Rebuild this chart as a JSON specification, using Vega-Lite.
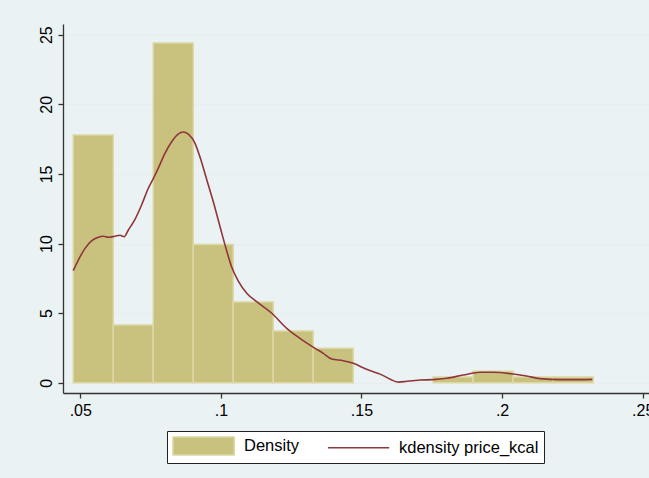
{
  "$schema": "https://vega.github.io/schema/vega-lite/v6.json",
  "width": 586,
  "height": 369,
  "autosize": {"type": "none"},
  "padding": {"left": 63, "top": 24, "right": 0, "bottom": 85},
  "background": "#eaf2f3",
  "config": {
    "view": {"fill": "white", "stroke": null},
    "font": "Liberation Sans",
    "axis": {
      "title": null,
      "labelFontSize": 16,
      "labelColor": "black",
      "labelFont": "Liberation Sans",
      "tickSize": 5,
      "tickColor": "#333333",
      "domainColor": "#333333",
      "domainWidth": 1.3,
      "tickWidth": 1.3,
      "labelPadding": 4,
      "labelFlush": false,
      "labelOverlap": false
    },
    "legend": {
      "orient": "none",
      "legendX": 104,
      "legendY": 407,
      "direction": "horizontal",
      "fillColor": "white",
      "strokeColor": "#222222",
      "padding": 5,
      "labelFontSize": 16.5,
      "labelColor": "black",
      "labelFont": "Liberation Sans",
      "labelOffset": 52,
      "columnPadding": 25,
      "symbolSize": 324,
      "symbolStrokeWidth": 1.5,
      "symbolOpacity": 1
    }
  },
  "datasets": {
    "bars": [
      {"bin_start": 0.0475, "bin_end": 0.06172, "density": 17.79},
      {"bin_start": 0.06172, "bin_end": 0.07594, "density": 4.14},
      {"bin_start": 0.07594, "bin_end": 0.09016, "density": 24.41},
      {"bin_start": 0.09016, "bin_end": 0.10438, "density": 9.93},
      {"bin_start": 0.10438, "bin_end": 0.1186, "density": 5.79},
      {"bin_start": 0.1186, "bin_end": 0.13282, "density": 3.72},
      {"bin_start": 0.13282, "bin_end": 0.14704, "density": 2.48},
      {"bin_start": 0.17548, "bin_end": 0.1897, "density": 0.41},
      {"bin_start": 0.1897, "bin_end": 0.20392, "density": 0.83},
      {"bin_start": 0.20392, "bin_end": 0.21814, "density": 0.41},
      {"bin_start": 0.21814, "bin_end": 0.23236, "density": 0.41}
    ],
    "kde": [
      {"x": 0.0475, "y": 8.05},
      {"x": 0.0493, "y": 8.81},
      {"x": 0.0517, "y": 9.65},
      {"x": 0.0541, "y": 10.2},
      {"x": 0.0564, "y": 10.45},
      {"x": 0.0582, "y": 10.52},
      {"x": 0.06, "y": 10.45},
      {"x": 0.0623, "y": 10.52},
      {"x": 0.0641, "y": 10.59},
      {"x": 0.0656, "y": 10.49},
      {"x": 0.0671, "y": 10.97},
      {"x": 0.0695, "y": 11.76},
      {"x": 0.0718, "y": 12.77},
      {"x": 0.0742, "y": 13.97},
      {"x": 0.076, "y": 14.68},
      {"x": 0.0777, "y": 15.4},
      {"x": 0.0801, "y": 16.48},
      {"x": 0.0825, "y": 17.31},
      {"x": 0.0849, "y": 17.87},
      {"x": 0.0866, "y": 18.01},
      {"x": 0.0884, "y": 17.85},
      {"x": 0.0908, "y": 17.2},
      {"x": 0.0929, "y": 16.0},
      {"x": 0.095, "y": 14.56},
      {"x": 0.0973, "y": 13.0},
      {"x": 0.0997, "y": 11.2},
      {"x": 0.1021, "y": 9.45},
      {"x": 0.1038, "y": 8.33},
      {"x": 0.1062, "y": 7.3},
      {"x": 0.1092, "y": 6.42},
      {"x": 0.1127, "y": 5.82},
      {"x": 0.1181, "y": 4.99},
      {"x": 0.1234, "y": 3.91},
      {"x": 0.1281, "y": 3.19},
      {"x": 0.1335, "y": 2.47},
      {"x": 0.1364, "y": 2.11},
      {"x": 0.1394, "y": 1.7},
      {"x": 0.1435, "y": 1.58},
      {"x": 0.1471, "y": 1.39},
      {"x": 0.1518, "y": 0.96},
      {"x": 0.157, "y": 0.58},
      {"x": 0.1634, "y": 0.04},
      {"x": 0.1661, "y": 0.1},
      {"x": 0.1708, "y": 0.19},
      {"x": 0.1755, "y": 0.22},
      {"x": 0.1803, "y": 0.32},
      {"x": 0.1862, "y": 0.55},
      {"x": 0.1921, "y": 0.75},
      {"x": 0.1969, "y": 0.75},
      {"x": 0.204, "y": 0.62},
      {"x": 0.2087, "y": 0.48},
      {"x": 0.2135, "y": 0.29},
      {"x": 0.2206, "y": 0.22},
      {"x": 0.2277, "y": 0.22},
      {"x": 0.2321, "y": 0.24}
    ],
    "legendrows": []
  },
  "layer": [
    {
      "data": {"name": "bars"},
      "mark": {"type": "bar", "fill": "#c9c27f", "stroke": "#dcd8a4", "strokeWidth": 1.5},
      "encoding": {
        "x": {
          "field": "bin_start",
          "type": "quantitative",
          "scale": {"domain": [0.04385, 0.25224], "nice": false, "zero": false},
          "axis": {
            "values": [0.05, 0.1, 0.15, 0.2, 0.25],
            "labelExpr": "slice(format(datum.value, '~g'), 1)",
            "grid": false
          }
        },
        "x2": {"field": "bin_end"},
        "y": {
          "field": "density",
          "type": "quantitative",
          "scale": {"domain": [-0.74, 25.77], "nice": false, "zero": false},
          "axis": {
            "values": [0, 5, 10, 15, 20, 25],
            "labelAngle": -90,
            "grid": true,
            "gridColor": "#e6eef1",
            "gridWidth": 1.5
          }
        },
        "y2": {"datum": 0}
      }
    },
    {
      "data": {"name": "kde"},
      "mark": {"type": "line", "strokeWidth": 1.6, "interpolate": "monotone", "color": "#90353b"},
      "encoding": {
        "x": {"field": "x", "type": "quantitative"},
        "y": {"field": "y", "type": "quantitative"}
      }
    },
    {
      "data": {"name": "legendrows"},
      "mark": {"type": "point", "filled": true},
      "encoding": {
        "shape": {
          "field": "series",
          "type": "nominal",
          "scale": {"domain": ["Density", "kdensity price_kcal"], "range": ["M-1,-1H5.8V1H-1Z", "M-1,0H5.8"]},
          "legend": {"title": null}
        },
        "fill": {
          "field": "series",
          "type": "nominal",
          "scale": {"domain": ["Density", "kdensity price_kcal"], "range": ["#c9c27f", "transparent"]},
          "legend": {"title": null}
        },
        "stroke": {
          "field": "series",
          "type": "nominal",
          "scale": {"domain": ["Density", "kdensity price_kcal"], "range": ["#dcd8a4", "#90353b"]},
          "legend": {"title": null}
        }
      }
    }
  ]
}
